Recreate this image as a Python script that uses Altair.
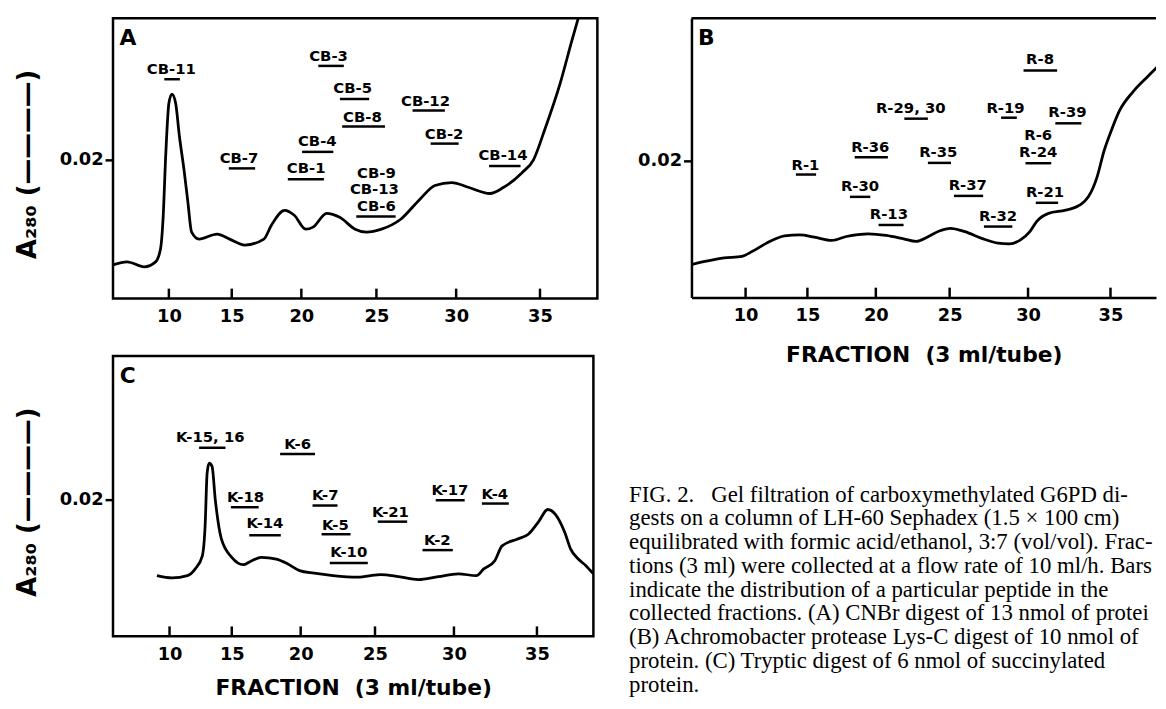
import altair as alt
import pandas as pd

FONT = "DejaVu Sans"
SERIF = "Liberation Serif"
TICKS = [10, 15, 20, 25, 30, 35]

# ---------------- Panel A (CNBr digest) ----------------
A_FRAC = [4.78, 6.21, 7.83, 8.85, 9.28, 9.50, 9.74, 10.0, 10.26, 10.57, 10.88, 11.26,
          11.58, 11.88, 12.48, 13.88, 14.84, 15.97, 17.36, 17.90, 18.84, 19.51, 20.30,
          20.80, 21.72, 22.60, 23.61, 24.35, 25.33, 26.55, 27.75, 28.70, 29.73, 30.78,
          32.04, 32.84, 33.95, 34.62, 35.27, 36.17, 36.84, 37.23]
A_ABS = [0.00486, 0.00529, 0.00457, 0.00529, 0.00714, 0.01143, 0.0210, 0.02814, 0.02947,
         0.02814, 0.02343, 0.01857, 0.01386, 0.00957, 0.00857, 0.00929, 0.00857, 0.00771,
         0.00857, 0.01057, 0.01271, 0.0120, 0.0100, 0.01029, 0.01229, 0.01171, 0.0100,
         0.00957, 0.0100, 0.01143, 0.01429, 0.01629, 0.01671, 0.0160, 0.01514, 0.0160,
         0.01814, 0.0200, 0.02429, 0.0310, 0.03714, 0.04057]
A_LABELS = ["CB-11", "CB-3", "CB-5", "CB-8", "CB-12", "CB-2", "CB-4", "CB-7", "CB-1",
            "CB-14", "CB-9", "CB-13", "CB-6"]
A_LABEL_X = [10.21, 21.85, 23.45, 24.09, 28.11, 29.26, 21.09, 15.54, 20.33, 32.82, 25.0, 24.87, 25.0]
A_LABEL_Y = [0.03304, 0.0349, 0.03029, 0.02614, 0.02853, 0.02371, 0.02267, 0.02029, 0.01876,
             0.02061, 0.01814, 0.01571, 0.01329]
A_BAR_START = [9.61, 21.16, 22.61, 22.76, 27.30, 28.43, 20.05, 14.78, 19.06, 31.99, 23.69]
A_BAR_END = [10.92, 22.87, 24.53, 25.55, 29.31, 30.15, 22.17, 16.73, 21.54, 33.86, 26.23]
A_BAR_Y = [0.03161, 0.03353, 0.02876, 0.02481, 0.0271, 0.02233, 0.02114, 0.01876, 0.01719,
           0.0191, 0.01181]

# ---------------- Panel B (Lys-C digest) ----------------
B_FRAC = [4.87, 6.40, 8.10, 9.69, 10.59, 11.77, 13.23, 14.41, 15.53, 16.84, 17.89, 19.47,
          20.72, 21.93, 22.76, 23.60, 24.32, 25.05, 25.99, 27.17, 28.12, 28.83, 29.53,
          30.11, 30.53, 31.26, 32.31, 33.15, 33.68, 34.20, 34.62, 35.04, 35.52, 36.35,
          37.19, 37.77]
B_ABS = [0.00482, 0.00531, 0.00578, 0.00603, 0.00675, 0.00795, 0.00901, 0.00915, 0.00882,
         0.00834, 0.00892, 0.0093, 0.00907, 0.00857, 0.0082, 0.00892, 0.00973, 0.01012,
         0.00964, 0.00857, 0.00795, 0.00785, 0.00843, 0.00964, 0.01109, 0.01229, 0.01277,
         0.01349, 0.01471, 0.0176, 0.02144, 0.02434, 0.02723, 0.03012, 0.03229, 0.03374]
B_LABELS = ["R-8", "R-29, 30", "R-19", "R-39", "R-36", "R-35", "R-6", "R-24", "R-1",
            "R-30", "R-37", "R-21", "R-13", "R-32"]
B_LABEL_X = [30.74, 22.41, 28.59, 32.42, 19.61, 24.25, 30.63, 30.63, 14.85, 18.88, 26.18,
             31.05, 20.91, 28.12]
B_LABEL_Y = [0.03485, 0.02762, 0.02772, 0.02714, 0.02202, 0.02121, 0.02367, 0.02121,
             0.01938, 0.01624, 0.01638, 0.01543, 0.01215, 0.0119]
B_BAR_START = [29.72, 21.97, 28.31, 31.68, 18.50, 23.56, 29.84, 14.11, 18.16, 25.28, 30.48, 20.19, 27.22]
B_BAR_END = [31.79, 23.56, 29.30, 33.26, 20.84, 25.09, 31.43, 15.66, 19.61, 27.17, 31.85, 21.92, 29.02]
B_BAR_Y = [0.03316, 0.02613, 0.02627, 0.02545, 0.02049, 0.01967, 0.01962, 0.01797, 0.01471,
           0.01485, 0.01384, 0.0106, 0.01037]

# ---------------- Panel C (tryptic digest) ----------------
C_FRAC = [8.90, 10.22, 11.50, 12.14, 12.71, 12.93, 13.09, 13.25, 13.48, 13.73, 14.21, 15.0,
          15.87, 16.36, 17.19, 18.28, 19.10, 19.92, 20.94, 22.21, 23.85, 24.49, 25.37,
          26.52, 27.78, 29.04, 30.27, 31.37, 31.82, 32.49, 32.93, 33.82, 34.49, 35.12,
          35.63, 36.08, 36.63, 36.97, 37.41, 37.85, 38.28]
C_ABS = [0.00888, 0.00855, 0.00888, 0.00986, 0.01178, 0.01613, 0.02387, 0.02532, 0.02483,
         0.0200, 0.0142, 0.01155, 0.01048, 0.01091, 0.01155, 0.0113, 0.01058, 0.00961,
         0.00923, 0.00888, 0.00865, 0.0088, 0.00903, 0.00874, 0.0083, 0.00874, 0.00913,
         0.00888, 0.00986, 0.01106, 0.01323, 0.0142, 0.01493, 0.01686, 0.01855, 0.01783,
         0.01517, 0.01275, 0.0113, 0.01033, 0.00913]
C_LABELS = ["K-15, 16", "K-6", "K-18", "K-14", "K-7", "K-5", "K-10", "K-21", "K-17", "K-4", "K-2"]
C_LABEL_X = [13.34, 19.79, 16.04, 17.46, 21.69, 22.38, 23.27, 26.0, 29.75, 32.49, 28.97]
C_LABEL_Y = [0.02917, 0.02812, 0.02033, 0.01652, 0.02072, 0.01628, 0.01228, 0.01822,
             0.02145, 0.02087, 0.0141]
C_BAR_START = [12.45, 18.55, 14.93, 16.31, 20.82, 21.44, 22.0, 25.18, 28.87, 31.71, 28.04]
C_BAR_END = [14.52, 20.99, 17.00, 18.60, 22.52, 23.39, 24.53, 27.07, 30.66, 33.33, 29.93]
C_BAR_Y = [0.02758, 0.02667, 0.01888, 0.01478, 0.01913, 0.01493, 0.01072, 0.01677, 0.0199,
           0.01942, 0.01261]

Y_TICKS = [0.02]
Y_TITLE = "A\u2082\u2088\u2080 (\u2014\u2014\u2014\u2014)"
X_TITLE = "FRACTION\u00a0\u00a0(3\u00a0ml/tube)"

CAPTION_LINES = [
    "\u00a0\u00a0FIG. 2.\u00a0\u00a0\u00a0Gel filtration of carboxymethylated G6PD di-",
    "gests on a column of LH-60 Sephadex (1.5 \u00d7 100 cm)",
    "equilibrated with formic acid/ethanol, 3:7 (vol/vol). Frac-",
    "tions (3 ml) were collected at a flow rate of 10 ml/h. Bars",
    "indicate the distribution of a particular peptide in the",
    "collected fractions. (A) CNBr digest of 13 nmol of protein.",
    "(B) Achromobacter protease Lys-C digest of 10 nmol of",
    "protein. (C) Tryptic digest of 6 nmol of succinylated",
    "protein.",
]


def make_panel(frac, absv, labels, lx, ly, bs, be, by, xdom, ytop, w, h, letter,
               ytitle, xtitle, xtitle_y, boxed):
    xs = alt.Scale(type="pow", exponent=1.3, domain=xdom, nice=False, zero=False)
    ys = alt.Scale(domain=[0, ytop], nice=False, zero=False)
    xaxis = alt.Axis(values=TICKS, title=xtitle, ticks=False, grid=False,
                     domain=not boxed, domainWidth=2.5, domainColor="black",
                     labelFont=FONT, labelFontSize=18, labelFontWeight="bold",
                     labelColor="black", labelPadding=9,
                     titleFont=FONT, titleFontSize=22, titleFontWeight="bold",
                     titleColor="black", titleY=xtitle_y, titleBaseline="middle")
    yaxis = alt.Axis(values=Y_TICKS, format=".2f", title=ytitle, grid=False,
                     domain=not boxed, domainWidth=2.5, domainColor="black",
                     tickSize=8, tickWidth=2.5, tickColor="black",
                     labelFont=FONT, labelFontSize=18, labelFontWeight="bold",
                     labelColor="black", labelPadding=2,
                     titleFont=FONT, titleFontSize=26, titleFontWeight="bold",
                     titleColor="black", titleAngle=270, titleX=-86, titleY=147,
                     titleBaseline="middle", titleAlign="center")

    def X(f):
        return alt.X(f, type="quantitative", scale=xs, axis=xaxis)

    def Y(f):
        return alt.Y(f, type="quantitative", scale=ys, axis=yaxis)

    curve = pd.DataFrame({"frac": frac, "a280": absv})
    labdf = pd.DataFrame({"label": labels, "lx": lx, "ly": ly})
    bardf = pd.DataFrame({"start": bs, "end": be, "y": by})

    line = alt.Chart(curve).mark_line(color="black", strokeWidth=2.8,
                                      interpolate="monotone", clip=True).encode(
        x=X("frac"), y=Y("a280"))
    ticks = alt.Chart(pd.DataFrame({"t": TICKS})).mark_rule(
        color="black", strokeWidth=2.5).encode(
        x=X("t"), y=alt.value(h), y2=alt.value(h - 10))
    bars = alt.Chart(bardf).mark_rule(color="black", strokeWidth=2.5).encode(
        x=X("start"), x2="end", y=Y("y"))
    txt = alt.Chart(labdf).mark_text(font=FONT, fontSize=15, fontWeight="bold",
                                     color="black", align="center",
                                     baseline="middle").encode(
        x=X("lx"), y=Y("ly"), text="label:N")
    let = alt.Chart(pd.DataFrame({"t": [letter]})).mark_text(
        font=FONT, fontSize=22, fontWeight="bold", color="black",
        align="center", baseline="middle").encode(
        x=alt.value(15), y=alt.value(20), text="t:N")
    layers = [line, ticks, bars, txt, let]
    if not boxed:
        top = alt.Chart(pd.DataFrame({"t": [0]})).mark_rule(
            color="black", strokeWidth=2.5).encode(
            x=alt.value(0), x2=alt.value(w), y=alt.value(0))
        layers.append(top)
    ch = alt.layer(*layers).properties(width=w, height=h)
    if boxed:
        ch = ch.properties(view=alt.ViewBackground(stroke="black", strokeWidth=2.5))
    return ch


pA = make_panel(A_FRAC, A_ABS, A_LABELS, A_LABEL_X, A_LABEL_Y, A_BAR_START, A_BAR_END,
                A_BAR_Y, [4.78, 38.3], 0.0404, 489, 283, "A", Y_TITLE, "", 58, True)
pB = make_panel(B_FRAC, B_ABS, B_LABELS, B_LABEL_X, B_LABEL_Y, B_BAR_START, B_BAR_END,
                B_BAR_Y, [4.87, 37.67], 0.0408, 469, 282, "B", "", X_TITLE, 58, False)
pC = make_panel(C_FRAC, C_ABS, C_LABELS, C_LABEL_X, C_LABEL_Y, C_BAR_START, C_BAR_END,
                C_BAR_Y, [4.65, 38.28], 0.0410, 485, 283, "C", Y_TITLE, X_TITLE, 52, True)

cap = alt.Chart(pd.DataFrame({"text": ["\n".join(CAPTION_LINES)]})).mark_text(
    font=SERIF, fontSize=23, color="black", align="left", baseline="middle",
    lineBreak="\n", lineHeight=24, limit=536, ellipsis=" ").encode(
    x=alt.value(-63), y=alt.value(140), text="text:N").properties(width=469, height=283)

chart = alt.concat(pA, pB, pC, cap, columns=2).properties(
    spacing={"row": 58, "column": 95}, bounds="flush", align="each",
    padding={"left": 5, "top": 5, "right": 0, "bottom": 0},
    background="white").configure_view(stroke="transparent")

chart.save("out.html", embed_options={"renderer": "svg", "actions": False})
